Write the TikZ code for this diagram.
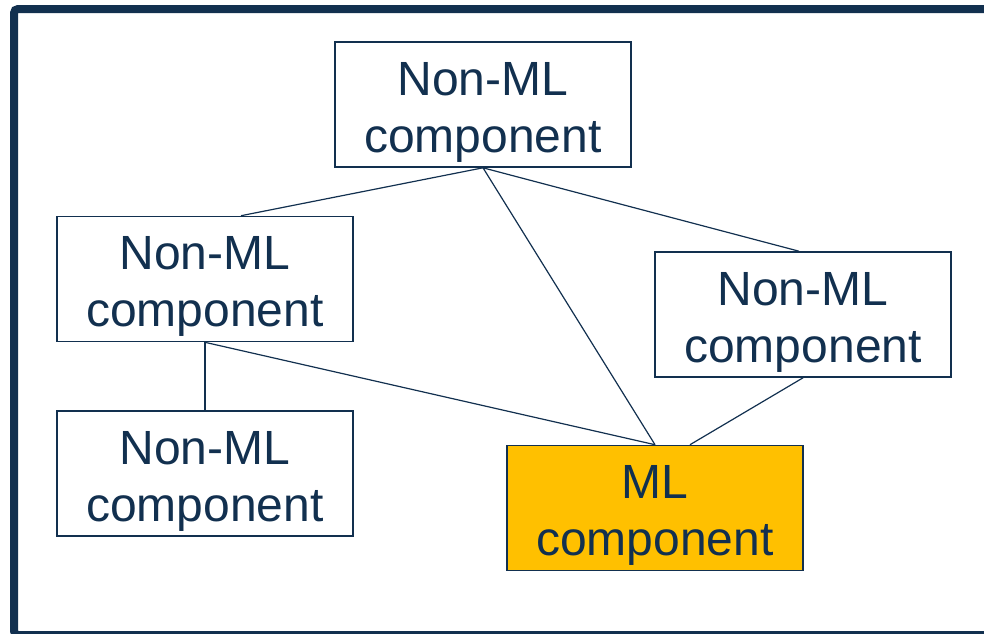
\documentclass[tikz,border=0pt]{standalone}
\usepackage{fontspec}
\setmainfont{Liberation Sans}
\definecolor{navy}{HTML}{12304F}
\definecolor{mlfill}{HTML}{FFC000}

\begin{document}
\begin{tikzpicture}[x=1pt,y=-1pt,
  box/.style={draw=navy,line width=1.6pt,fill=white,minimum width=296pt,
    minimum height=125pt,inner sep=0pt,anchor=center},
  lbl/.style={text=navy,font=\fontsize{48pt}{57pt}\selectfont,align=center,inner sep=0pt},
  link/.style={draw=navy,line width=1.2pt}]
\useasboundingbox (0,0) rectangle (984,633);
% outer frame, partly cut off at the right and bottom
\begin{scope}
  \clip (0,0) rectangle (984,633);
  \draw[navy,line width=8pt,rounded corners=4pt] (14,9) rectangle (1000,635);
\end{scope}

% component boxes
\node[box] (top) at (483,104.5) {};
\node[box] (lm)  at (205,279) {};
\node[box] (rt)  at (803,314.5) {};
\node[box] (lb)  at (205,473.5) {};
\node[box,fill=mlfill] (ml) at (655,508) {};

% dependencies
\draw[link] (top.south) -- ([xshift=36pt]lm.north);
\draw[link] (top.south) -- ([xshift=-4pt]rt.north);
\draw[link] (top.south) -- (ml.north);
\draw[link] (lm.south) -- (lb.north);
\draw[link] (lm.south) -- (ml.north);
\draw[link] (rt.south) -- ([xshift=35pt]ml.north);

% labels
\node[lbl] (ttop) at ([yshift=-7.8pt]top.center) {Non-ML\\component};
\node[lbl] (tlm)  at ([yshift=-7.8pt]lm.center)  {Non-ML\\component};
\node[lbl] (trt)  at ([yshift=-7.8pt]rt.center)  {Non-ML\\component};
\node[lbl] (tlb)  at ([yshift=-7.8pt]lb.center)  {Non-ML\\component};
\node[lbl] (tml)  at ([yshift=-7.8pt]ml.center)  {ML\\component};
\end{tikzpicture}
\end{document}
